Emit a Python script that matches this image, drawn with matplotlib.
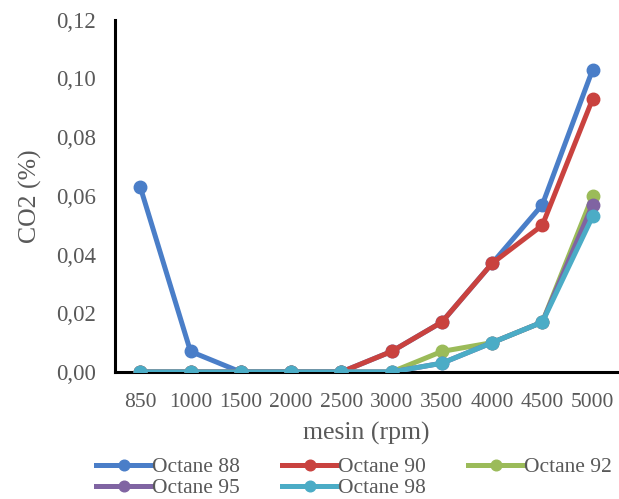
import matplotlib
matplotlib.use('Agg')
import matplotlib.pyplot as plt
import numpy as np

# Engine speed categories
rpm_labels = ['850', '1000', '1500', '2000', '2500', '3000', '3500', '4000', '4500', '5000']

# CO2 values (%) per octane
octane_88 = [0.063, 0.007, 0.0, 0.0, 0.0, 0.007, 0.017, 0.037, 0.057, 0.103]
octane_90 = [0.0, 0.0, 0.0, 0.0, 0.0, 0.007, 0.017, 0.037, 0.050, 0.093]
octane_92 = [0.0, 0.0, 0.0, 0.0, 0.0, 0.0, 0.007, 0.010, 0.017, 0.060]
octane_95 = [0.0, 0.0, 0.0, 0.0, 0.0, 0.0, 0.003, 0.010, 0.017, 0.057]
octane_98 = [0.0, 0.0, 0.0, 0.0, 0.0, 0.0, 0.003, 0.010, 0.017, 0.053]

y_ticks = [0.0, 0.02, 0.04, 0.06, 0.08, 0.10, 0.12]
y_tick_labels = ['0,00', '0,02', '0,04', '0,06', '0,08', '0,10', '0,12']

series = [
    ('Octane 88', octane_88, '#4A7EC8'),
    ('Octane 90', octane_90, '#C9423F'),
    ('Octane 92', octane_92, '#9BBB59'),
    ('Octane 95', octane_95, '#8064A2'),
    ('Octane 98', octane_98, '#4BACC6'),
]

text_color = '#595959'
plt.rcParams['font.family'] = ['Liberation Serif', 'DejaVu Serif']

fig = plt.figure(figsize=(6.19, 4.99), dpi=100)
ax = fig.add_axes([0.186, 0.2545, 0.812, 0.706])

x = np.arange(len(rpm_labels))
handles = {}
for i, (name, values, color) in enumerate(series):
    line, = ax.plot(x, values, color=color, linewidth=3.6, marker='o',
                    markersize=9, label=name, zorder=3 + i * 0.1)
    handles[name] = line

ax.set_xlim(-0.5, len(rpm_labels) - 0.5)
ax.set_ylim(0, 0.12)
ax.set_xticks(x)
ax.set_xticklabels(rpm_labels)
ax.set_yticks(y_ticks)
ax.set_yticklabels(y_tick_labels)
ax.tick_params(axis='x', length=0, labelsize=15.5, labelcolor=text_color, pad=15)
ax.tick_params(axis='y', length=0, labelsize=16.5, labelcolor=text_color, pad=14)

for side in ['top', 'right']:
    ax.spines[side].set_visible(False)
for side in ['left', 'bottom']:
    ax.spines[side].set_linewidth(2.2)
    ax.spines[side].set_color('black')
    ax.spines[side].set_zorder(2)

ax.set_xlabel('mesin (rpm)', fontsize=18.5, color=text_color, labelpad=7)
ax.set_ylabel('CO2 (%)', fontsize=18.5, color=text_color, labelpad=10)

# Legend filled row by row
order = ['Octane 88', 'Octane 95', 'Octane 90', 'Octane 98', 'Octane 92']
leg = fig.legend([handles[n] for n in order], order, ncol=3, loc='upper left',
                 bbox_to_anchor=(0.155, 0.084), frameon=False, fontsize=15.5,
                 handlelength=2.6, handletextpad=0.0, columnspacing=1.95,
                 labelspacing=0.05, borderaxespad=0.0, borderpad=0.0,
                 markerscale=0.85)
for t in leg.get_texts():
    t.set_color(text_color)

fig.savefig('out.png', dpi=100)
